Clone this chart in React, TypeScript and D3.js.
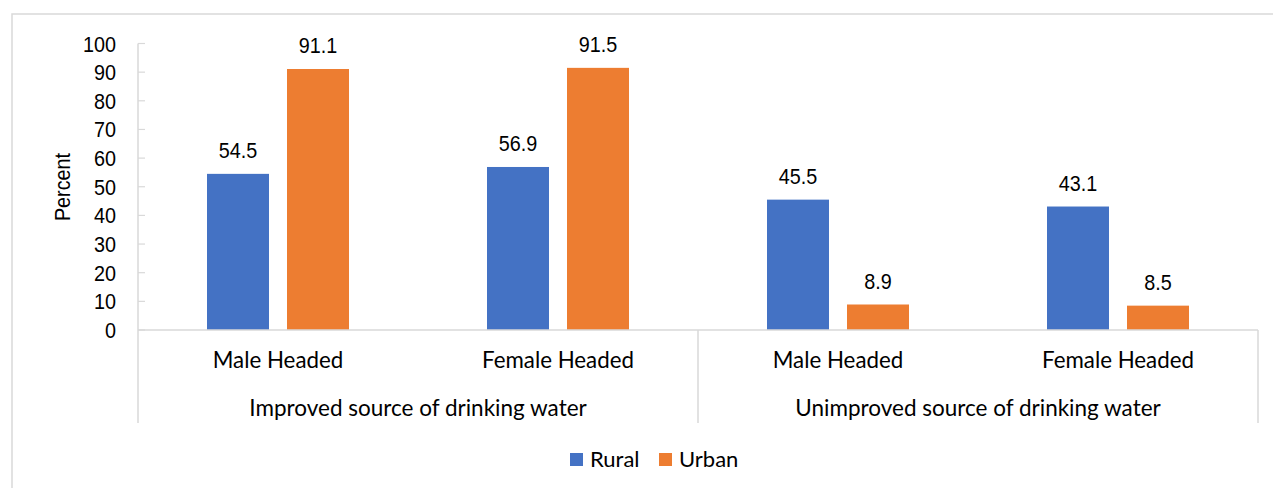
import React from "react";
import * as d3 from "d3";

const categories = ["Male Headed", "Female Headed", "Male Headed ", "Female Headed "];
const categoryLabels = ["Male Headed", "Female Headed", "Male Headed", "Female Headed"];
const groups = ["Improved source of drinking water", "Unimproved source of drinking water"];
const seriesNames = ["Rural", "Urban"];
const rural = [54.5, 56.9, 45.5, 43.1];
const urban = [91.1, 91.5, 8.9, 8.5];
const yTicks = [0, 10, 20, 30, 40, 50, 60, 70, 80, 90, 100];
const colors = ["#4472C4", "#ED7D31"];

const W = 1273;
const H = 488;
const left = 138;
const right = 1258;
const top = 43.5;
const bottom = 330;

function NumText({ x, y, anchor = "middle", children, rotate = 0 }: any) {
  return (
    <text
      transform={`translate(${x},${y}) rotate(${rotate}) scale(0.9,1)`}
      textAnchor={anchor}
      fontFamily="'Liberation Sans', Arial, sans-serif"
      fontSize={22}
      fill="#000"
    >
      {children}
    </text>
  );
}

export default function App() {
  const x = d3.scaleBand<string>().domain(categories).range([left, right]).padding(0);
  const xi = d3
    .scaleBand<string>()
    .domain(seriesNames)
    .range([0, x.bandwidth()])
    .paddingInner(0.225)
    .paddingOuter(0.8625);
  const y = d3.scaleLinear().domain([0, 100]).range([bottom, top]);
  const series = [rural, urban];
  const catFont = "Lato, 'Open Sans', sans-serif";
  const grid = "#d9d9d9";
  const groupW = x.step() * 2;

  return (
    <svg
      width={W}
      height={H}
      style={{ position: "absolute", left: 0, top: 0, background: "#fff" }}
    >
      <rect x={12} y={14} width={W} height={H} fill="#fff" stroke={grid} strokeWidth={1.5} />
      {yTicks.map((t) => (
        <g key={t}>
          <line x1={left} x2={left + 7} y1={y(t)} y2={y(t)} stroke={grid} strokeWidth={1.2} />
          <NumText x={116} y={y(t) + 8} anchor="end">
            {t}
          </NumText>
        </g>
      ))}
      <line x1={left} x2={left} y1={y(100)} y2={423} stroke={grid} strokeWidth={1.5} />
      <NumText x={70} y={187} rotate={-90}>
        Percent
      </NumText>
      {categories.map((c, i) => (
        <g key={c}>
          {series.map((s, j) => {
            const bx = (x(c) as number) + (xi(seriesNames[j]) as number);
            const by = y(s[i]);
            return (
              <g key={j}>
                <rect
                  x={bx}
                  y={by}
                  width={xi.bandwidth()}
                  height={y(0) - by}
                  fill={colors[j]}
                />
                <NumText x={bx + xi.bandwidth() / 2} y={by - 16}>
                  {s[i].toFixed(1)}
                </NumText>
              </g>
            );
          })}
          <text
            x={(x(c) as number) + x.bandwidth() / 2}
            y={368}
            textAnchor="middle"
            fontFamily={catFont}
            fontSize={22.3}
            fill="#000"
          >
            {categoryLabels[i]}
          </text>
        </g>
      ))}
      <line x1={left} x2={right} y1={bottom} y2={bottom} stroke={grid} strokeWidth={1.5} />
      {groups.map((g, k) => (
        <g key={g}>
          <line
            x1={left + groupW * (k + 1)}
            x2={left + groupW * (k + 1)}
            y1={bottom}
            y2={423}
            stroke={grid}
            strokeWidth={1.5}
          />
          <text
            x={left + groupW * k + groupW / 2}
            y={416}
            textAnchor="middle"
            fontFamily={catFont}
            fontSize={22.5}
            fill="#000"
          >
            {g}
          </text>
        </g>
      ))}
      {seriesNames.map((n, j) => {
        const lx = [570, 659][j];
        return (
          <g key={n}>
            <rect x={lx} y={453} width={13} height={13} fill={colors[j]} />
            <text x={lx + 20} y={467} fontFamily={catFont} fontSize={22} fill="#000">
              {n}
            </text>
          </g>
        );
      })}
    </svg>
  );
}
